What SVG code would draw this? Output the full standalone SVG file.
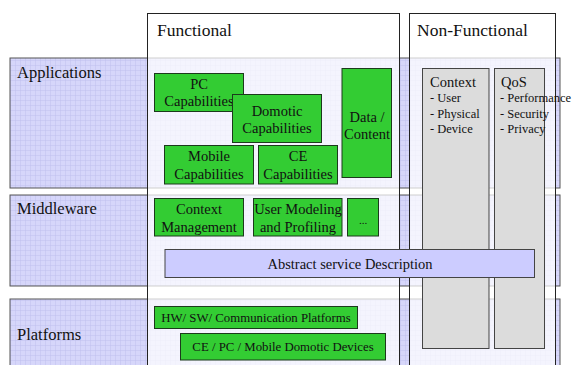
<svg xmlns="http://www.w3.org/2000/svg" width="572" height="365" viewBox="0 0 572 365" font-family="'Liberation Serif', 'Times New Roman', serif">
<defs>
<pattern id="grid" width="5" height="5" patternUnits="userSpaceOnUse">
<rect width="5" height="5" fill="#D6D6FA"/>
<path d="M0 0.3H5M0.3 0V5" stroke="#BDBDEE" stroke-width="0.6" fill="none"/>
</pattern>
</defs>
<style>
.band{fill:url(#grid);stroke:#555;stroke-width:1}
.col{fill:#fff;fill-opacity:0.72;stroke:#222;stroke-width:1}
.g{fill:#33CC33;stroke:#1C3A1C;stroke-width:1}
.gr{fill:#DCDCDC;stroke:#444;stroke-width:1}
.lav{fill:#CCCCFF;stroke:#444;stroke-width:1}
text{font-family:"Liberation Serif","Times New Roman",serif;fill:#111}
.h{font-size:17.5px}
.l{font-size:16.5px}
.b{font-size:14.5px;text-anchor:middle}
.s{font-size:12.5px}
.p{font-size:12.8px;text-anchor:middle}
</style>
<rect width="572" height="365" fill="#fff"/>
<g id="bands">
<g id="applications"><rect class="band" x="10" y="58" width="550" height="130"/><text class="l" x="17" y="78">Applications</text></g>
<g id="middleware"><rect class="band" x="10" y="195" width="550" height="91"/><text class="l" x="17" y="214">Middleware</text></g>
<g id="platforms"><rect class="band" x="10" y="299" width="550" height="70"/><text class="l" x="17" y="340">Platforms</text></g>
</g>
<g id="functional"><rect class="col" x="147.5" y="13.5" width="252" height="360"/><text class="h" x="157" y="36">Functional</text></g>
<g id="nonfunctional"><rect class="col" x="409.5" y="13.5" width="146" height="360"/><text class="h" x="417" y="36">Non-Functional</text></g>
<g id="context"><rect class="gr" x="422.5" y="68.5" width="66.5" height="280"/>
<text x="430" y="87" font-size="14.5">Context</text>
<text class="s" x="430" y="102">- User</text>
<text class="s" x="430" y="118">- Physical</text>
<text class="s" x="430" y="133">- Device</text></g>
<g id="qos"><rect class="gr" x="494.5" y="68.5" width="50" height="280"/>
<text x="501" y="87" font-size="14.5">QoS</text>
<text class="s" x="500" y="102">- Performance</text>
<text class="s" x="500" y="118">- Security</text>
<text class="s" x="500" y="133">- Privacy</text></g>
<g id="pc"><rect class="g" x="154.5" y="73.5" width="89" height="38"/><text class="b" x="199" y="89">PC</text><text class="b" x="199" y="106">Capabilities</text></g>
<g id="domotic"><rect class="g" x="232.5" y="94.5" width="89" height="48"/><text class="b" x="277" y="116">Domotic</text><text class="b" x="277" y="133">Capabilities</text></g>
<g id="mobile"><rect class="g" x="164.5" y="145.5" width="89" height="38.5"/><text class="b" x="209" y="161">Mobile</text><text class="b" x="209" y="179">Capabilities</text></g>
<g id="ce"><rect class="g" x="258.5" y="145.5" width="79" height="38.5"/><text class="b" x="298" y="161">CE</text><text class="b" x="298" y="179">Capabilities</text></g>
<g id="data"><rect class="g" x="342" y="68.5" width="49.5" height="109"/><text class="b" x="367" y="122">Data /</text><text class="b" x="367" y="139">Content</text></g>
<g id="contextmgmt"><rect class="g" x="154.5" y="198.5" width="89" height="37.5"/><text class="b" x="199" y="214">Context</text><text class="b" x="199" y="232">Management</text></g>
<g id="usermodel"><rect class="g" x="253.5" y="198.5" width="88.5" height="37.5"/><text class="b" x="298" y="214">User Modeling</text><text class="b" x="298" y="232">and Profiling</text></g>
<g id="more"><rect class="g" x="347.5" y="198.5" width="31" height="37.5"/><text x="363" y="224" font-size="11" text-anchor="middle" fill="#333">...</text></g>
<g id="abstract"><rect class="lav" x="165" y="249.5" width="369.5" height="28"/><text class="b" x="350" y="269">Abstract service Description</text></g>
<g id="hwsw"><rect class="g" x="154.5" y="306.5" width="203" height="22"/><text class="p" x="256" y="322">HW/ SW/ Communication Platforms</text></g>
<g id="devices"><rect class="g" x="180.5" y="333.5" width="205" height="26.5"/><text class="p" x="283" y="351">CE / PC / Mobile Domotic Devices</text></g>
<g id="connectors"></g>
</svg>
